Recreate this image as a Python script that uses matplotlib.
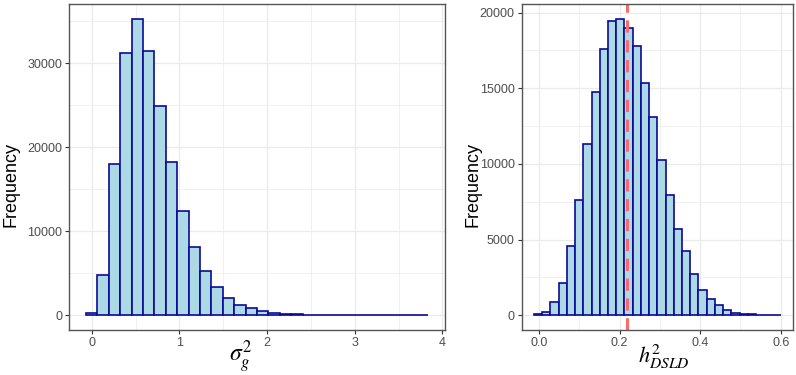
import numpy as np
import matplotlib
matplotlib.use("Agg")
import matplotlib.pyplot as plt
from matplotlib.ticker import MultipleLocator

# histogram of sigma_g^2 (30 bins)
sigma_first_center = 0.0
sigma_bin_width = 0.13
sigma_counts = [300, 4780, 18000, 31300, 35300, 31500, 24900, 18300, 12400, 8100,
                5250, 3400, 2050, 1270, 870, 500, 300, 160, 90, 55,
                35, 25, 15, 10, 8, 5, 4, 3, 2, 1]

# histogram of h^2_DSLD (30 bins)
h2_first_center = -0.002
h2_bin_width = 0.0204
h2_counts = [90, 240, 855, 2150, 4540, 7610, 11320, 14780, 17610, 19470,
             19580, 18950, 17760, 15330, 13090, 10280, 7940, 5680, 4230, 2720,
             1690, 1075, 660, 310, 175, 110, 60, 40, 20, 10]
h2_mean = 0.219

FILL = "#ADD8E6"
EDGE = "#0A0A96"

plt.rcParams['font.family'] = ['Liberation Sans', 'DejaVu Sans']
plt.rcParams['mathtext.fontset'] = 'stix'


def style_axes(ax, xmajor, ymajor):
    ax.use_sticky_edges = False
    ax.margins(0.05)
    ax.xaxis.set_major_locator(MultipleLocator(xmajor))
    ax.xaxis.set_minor_locator(MultipleLocator(xmajor / 2))
    ax.yaxis.set_major_locator(MultipleLocator(ymajor))
    ax.yaxis.set_minor_locator(MultipleLocator(ymajor / 2))
    ax.grid(True, which='major', color='#EBEBEB', linewidth=1.0)
    ax.grid(True, which='minor', color='#EBEBEB', linewidth=0.5)
    ax.set_axisbelow(True)
    for s in ax.spines.values():
        s.set_color('#555555')
        s.set_linewidth(1.0)
    ax.tick_params(which='major', length=3, width=0.8, color='#333333',
                   labelsize=9, labelcolor='#4D4D4D', pad=2)
    ax.tick_params(which='minor', length=0)
    ax.set_ylabel('Frequency', fontsize=13)


fig = plt.figure(figsize=(7.96, 3.75), dpi=100)
ax1 = fig.add_axes([0.0867, 0.12, 0.4723, 0.869])
ax2 = fig.add_axes([0.6554, 0.12, 0.3408, 0.869])

centers1 = sigma_first_center + sigma_bin_width * np.arange(len(sigma_counts))
ax1.bar(centers1, sigma_counts, width=sigma_bin_width, color=FILL,
        edgecolor=EDGE, linewidth=1.2)
style_axes(ax1, 1, 10000)
ax1.set_xlabel(r'$\sigma_g^2$', fontsize=17)
ax1.xaxis.set_label_coords(0.455, -0.026)
ax1.yaxis.set_label_coords(-0.131, 0.445)

centers2 = h2_first_center + h2_bin_width * np.arange(len(h2_counts))
ax2.bar(centers2, h2_counts, width=h2_bin_width, color=FILL,
        edgecolor=EDGE, linewidth=1.2)
style_axes(ax2, 0.2, 5000)
ax2.xaxis.set_major_formatter(plt.FuncFormatter(lambda v, p: f'{v:.1f}'))
ax2.axvline(h2_mean, color='#FA6A6A', linewidth=2.2, linestyle=(0, (4, 2.5)))
ax2.set_xlabel(r'$h^2_{DSLD}$', fontsize=16)
ax2.xaxis.set_label_coords(0.5245, -0.040)
ax2.yaxis.set_label_coords(-0.147, 0.445)

fig.savefig('out.png', dpi=100)
